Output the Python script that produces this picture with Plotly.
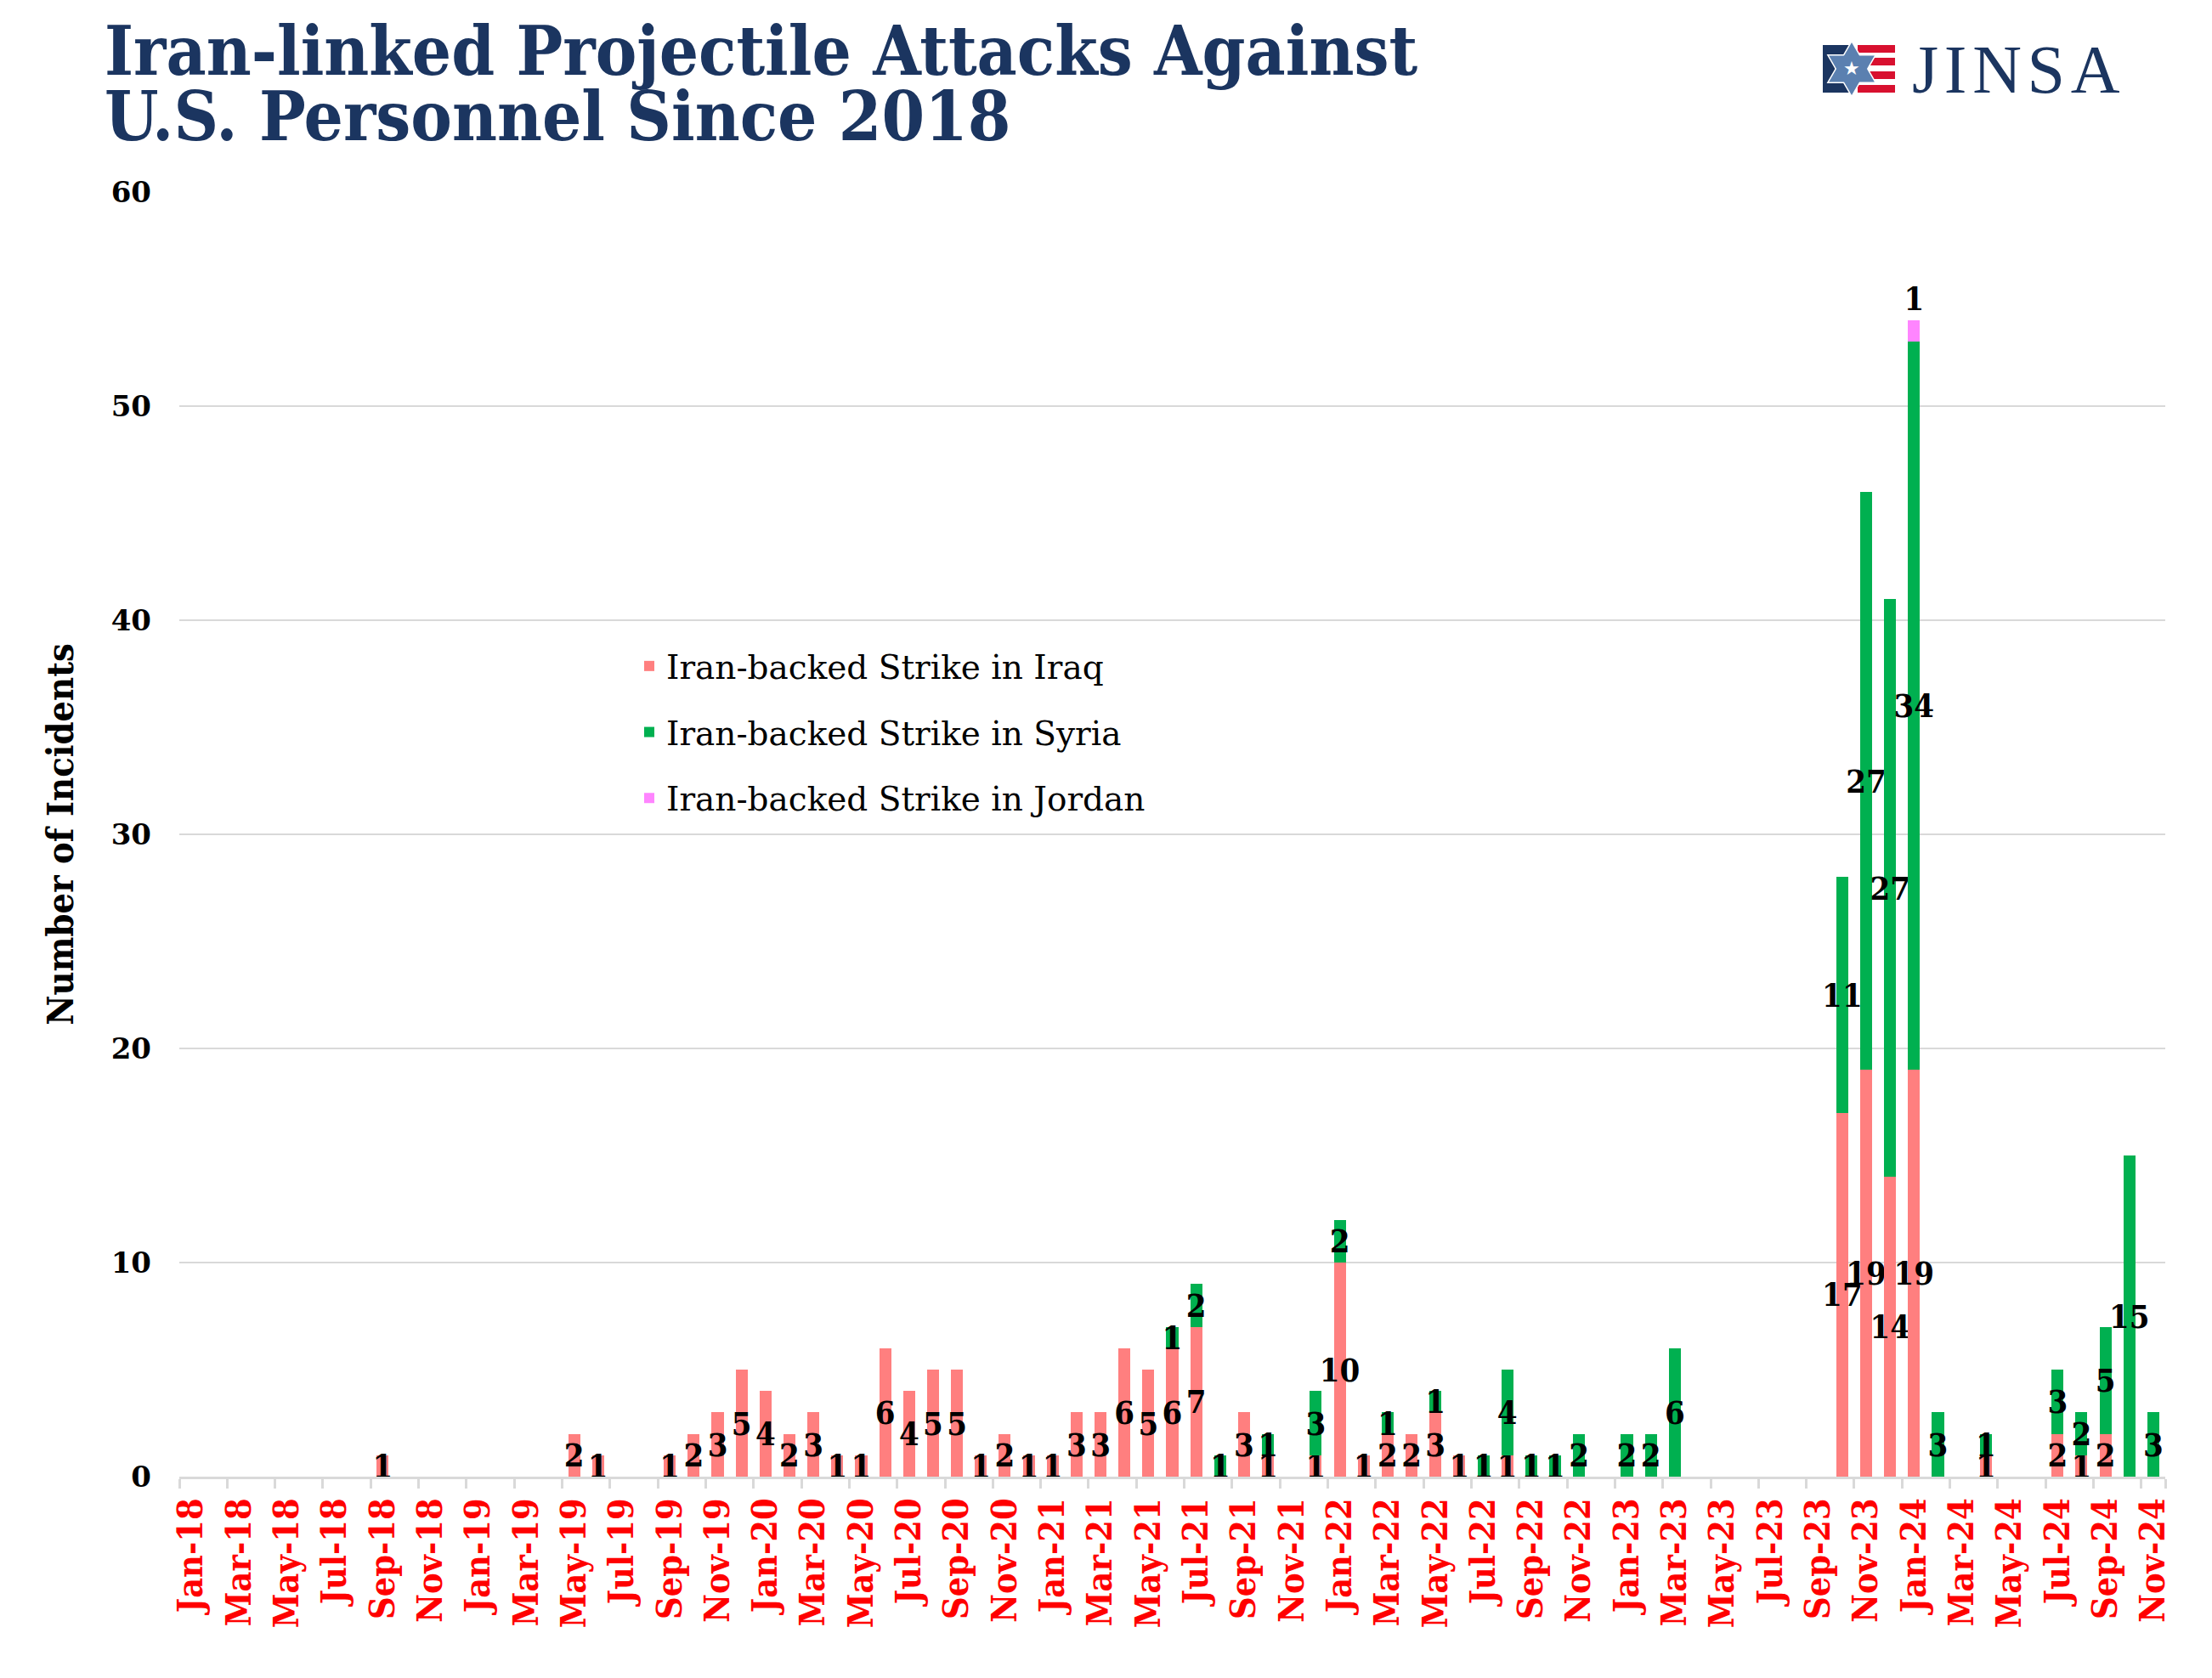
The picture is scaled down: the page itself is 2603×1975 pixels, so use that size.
import plotly.graph_objects as go

months = ["Jan", "Feb", "Mar", "Apr", "May", "Jun", "Jul", "Aug", "Sep", "Oct", "Nov", "Dec"]
categories = [f"{m}-{y}" for y in range(18, 25) for m in months][:83]  # Jan-18 .. Nov-24

iraq = [0, 0, 0, 0, 0, 0, 0, 0, 1, 0, 0, 0,
        0, 0, 0, 0, 2, 1, 0, 0, 1, 2, 3, 5,
        4, 2, 3, 1, 1, 6, 4, 5, 5, 1, 2, 1,
        1, 3, 3, 6, 5, 6, 7, 0, 3, 1, 0, 1,
        10, 1, 2, 2, 3, 1, 0, 1, 0, 0, 0, 0,
        0, 0, 0, 0, 0, 0, 0, 0, 0, 17, 19, 14,
        19, 0, 0, 1, 0, 0, 2, 1, 2, 0, 0]
syria = [0, 0, 0, 0, 0, 0, 0, 0, 0, 0, 0, 0,
         0, 0, 0, 0, 0, 0, 0, 0, 0, 0, 0, 0,
         0, 0, 0, 0, 0, 0, 0, 0, 0, 0, 0, 0,
         0, 0, 0, 0, 0, 1, 2, 1, 0, 1, 0, 3,
         2, 0, 1, 0, 1, 0, 1, 4, 1, 1, 2, 0,
         2, 2, 6, 0, 0, 0, 0, 0, 0, 11, 27, 27,
         34, 3, 0, 1, 0, 0, 3, 2, 5, 15, 3]
jordan = [0] * 72 + [1] + [0] * 10

series_names = ["Iran-backed Strike in Iraq", "Iran-backed Strike in Syria", "Iran-backed Strike in Jordan"]
colors = ["#FF7F7F", "#00B050", "#FF85FF"]
y_ticks = [0, 10, 20, 30, 40, 50, 60]

OFF = 8  # default page body margin
W, H = 2603 - 2 * OFF, 1975 - 2 * OFF
# plot area in page pixels
PL, PR, PT, PB = 211, 2548, 226, 1738
L, R, T, B = PL - OFF, PR - OFF, PT - OFF, PB - OFF


def px(x):  # page pixel -> paper
    return (x - OFF - L) / (R - L)


def py(y):
    return (B - (y - OFF)) / (B - T)


def nz(v):
    return [a if a else None for a in v]


COND = "DejaVu Serif Condensed, DejaVu Serif"
label_font = dict(family=COND, size=38, color="black", weight="bold")

fig = go.Figure()
for name, vals, col, pos in zip(series_names, [iraq, syria, jordan], colors, ["inside", "inside", "outside"]):
    fig.add_trace(go.Bar(
        x=categories, y=nz(vals), name=name, marker=dict(color=col, line=dict(width=0)),
        text=nz(vals), texttemplate="%{y}", textposition=pos, textangle=0,
        insidetextanchor="middle", constraintext="none",
        insidetextfont=label_font, outsidetextfont=label_font,
        legendgroup=name, cliponaxis=False,
    ))

fig.update_layout(
    width=W, height=H, barmode="stack", bargap=0.5,
    margin=dict(l=L, r=W - R, t=T, b=H - B),
    paper_bgcolor="white", plot_bgcolor="white",
    font=dict(family="DejaVu Serif", color="black"),
    legend=dict(x=px(744), y=py(752), xanchor="left", yanchor="top",
                traceorder="grouped", tracegroupgap=24,
                font=dict(family="DejaVu Serif", size=39, color="black"),
                bgcolor="rgba(0,0,0,0)", itemwidth=30),
    showlegend=True,
)

fig.update_xaxes(
    type="category", tickson="boundaries", tickmode="array",
    tickvals=categories[::2], ticktext=categories[::2], tickangle=-90,
    tickfont=dict(family=COND, size=41, color="#FF0000", weight="bold"),
    ticks="outside", ticklen=11, tickwidth=3, tickcolor="#D9D9D9",
    ticklabelstandoff=6,
    showline=True, linecolor="#D9D9D9", linewidth=3, showgrid=False,
    range=[-0.5, len(categories) - 0.5],
)
fig.update_yaxes(
    range=[0, 60], tickvals=y_ticks, showgrid=True, gridcolor="#D9D9D9", gridwidth=2,
    zeroline=False, showline=False,
    tickfont=dict(family="DejaVu Serif", size=34, color="black", weight="bold"),
    ticklabelstandoff=32,
    title=dict(text="<b>Number of Incidents</b>", font=dict(family=COND, size=43, color="black"), standoff=30),
)

navy = "#1B3560"
for line, yc in [("Iran-linked Projectile Attacks Against", 59), ("U.S. Personnel Since 2018", 137)]:
    fig.add_annotation(
        xref="paper", yref="paper", x=px(121), y=py(yc), xanchor="left", yanchor="middle",
        text=f"<b>{line}</b>", showarrow=False, align="left",
        font=dict(family=COND, size=81, color=navy),
    )

# JINSA logo
shapes = []
shapes.append(dict(type="rect", xref="paper", yref="paper", x0=px(2145), x1=px(2176), y0=py(109), y1=py(53),
                   fillcolor=navy, line=dict(width=0), layer="above"))
for y0, y1 in [(53, 62), (68, 77), (84, 93), (100, 109)]:
    shapes.append(dict(type="rect", xref="paper", yref="paper", x0=px(2186), x1=px(2230), y0=py(y1), y1=py(y0),
                       fillcolor="#D8102F", line=dict(width=0), layer="above"))
cx, cy, r = 2179, 81, 31
for lw in (3, 0):
    for sgn in (1, -1):
        pts = [(cx, cy - sgn * r), (cx - 0.866 * r, cy + sgn * r / 2), (cx + 0.866 * r, cy + sgn * r / 2)]
        path = "M " + " L ".join(f"{px(a)},{py(b)}" for a, b in pts) + " Z"
        shapes.append(dict(type="path", xref="paper", yref="paper", path=path, fillcolor="#5B80B0",
                           line=dict(color="white", width=lw) if lw else dict(width=0), layer="above"))
fig.update_layout(shapes=shapes)
fig.add_annotation(xref="paper", yref="paper", x=px(cx), y=py(cy), text="★", showarrow=False,
                   font=dict(size=22, color="white"), xanchor="center", yanchor="middle")
fig.add_annotation(xref="paper", yref="paper", x=px(2248), y=py(82), xanchor="left", yanchor="middle",
                   text="J\u200aI\u200aN\u200aS\u200aA", showarrow=False,
                   font=dict(family="Liberation Serif", size=80, color=navy))

fig.write_html("out.html")
